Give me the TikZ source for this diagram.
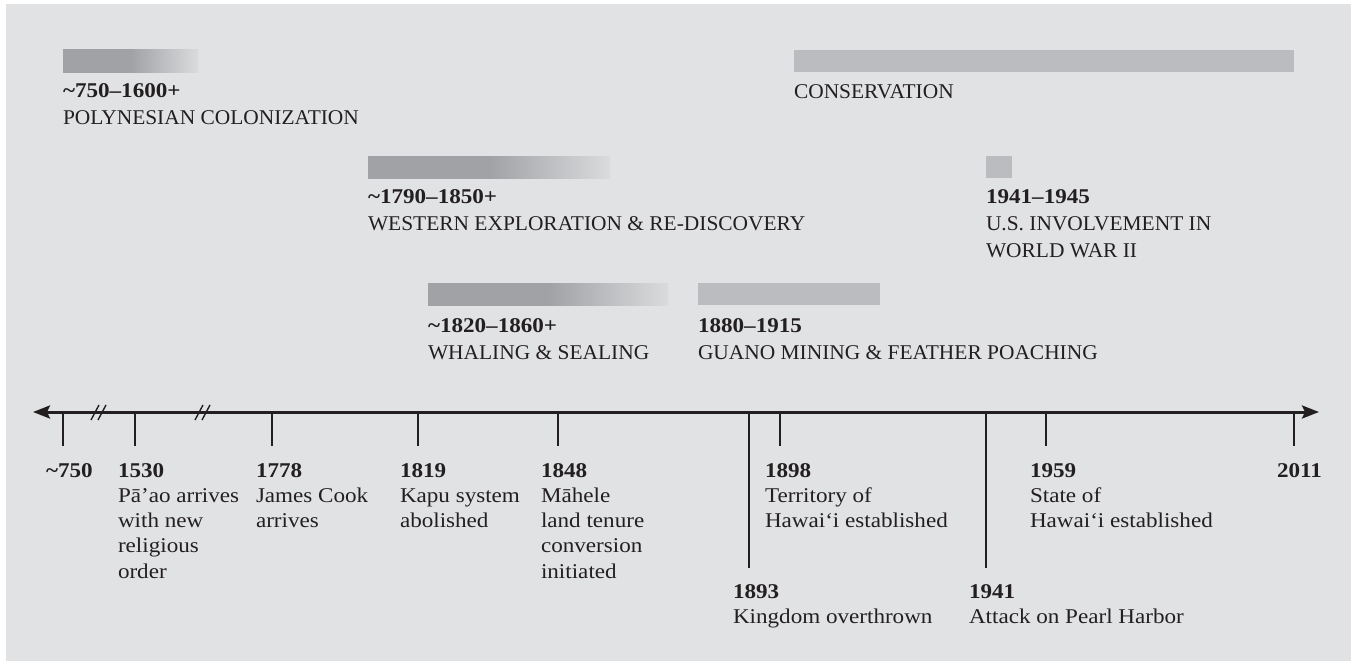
\documentclass[tikz,border=0pt]{standalone}
\usepackage{fontspec}
\setmainfont{Liberation Serif}[FakeStretch=1.02]
\newfontfamily\bodyfont{Liberation Serif}[FakeStretch=1.1]
\usetikzlibrary{arrows.meta}
\definecolor{bgc}{HTML}{E1E2E4}
\definecolor{ink}{HTML}{231F20}
\definecolor{bardark}{HTML}{A1A2A5}
\definecolor{barlight}{HTML}{BBBCBF}
\definecolor{barend}{HTML}{DADBDD}
\pgfdeclarehorizontalshading{barfade}{100bp}{color(0bp)=(bardark); color(50bp)=(bardark); color(75bp)=(barend); color(100bp)=(barend)}
\newcommand\yr[1]{{\bodyfont\bfseries #1}}
\newcommand\plab[1]{\fontsize{21}{27}\selectfont\begin{tabular}[t]{@{}l@{}}#1\end{tabular}}
\newcommand\elab[1]{\bodyfont\fontsize{21}{25.3}\selectfont\begin{tabular}[t]{@{}l@{}}#1\end{tabular}}
\begin{document}
\begin{tikzpicture}[x=1pt,y=-1pt,
  lbl/.style={anchor=base west,inner sep=0pt,outer sep=0pt,text=ink},
  fadebar/.style={shading=barfade,draw=none},
  flatbar/.style={fill=barlight,draw=none},
  axisline/.style={draw=ink,line width=3pt,{Stealth[length=17pt,width=13pt,inset=3pt]}-{Stealth[length=17pt,width=13pt,inset=3pt]}},
  tickline/.style={draw=ink,line width=2.8pt},
  brk/.style={draw=ink,line width=1.4pt}]
\useasboundingbox (0,0) rectangle (1351,661);
\fill[bgc] (6,4) rectangle (1351,661);

% period bars
\shade[fadebar] (63,50) rectangle (198,72);
\fill[flatbar] (794,50) rectangle (1294,72);
\shade[fadebar] (368,156) rectangle (610,178);
\fill[flatbar] (986,156) rectangle (1012,178);
\shade[fadebar] (428,283) rectangle (668,305);
\fill[flatbar] (698,283) rectangle (880,305);

% period labels
\node[lbl] (pPoly) at (63,97) {\plab{\yr{\textasciitilde750–1600+}\\POLYNESIAN COLONIZATION}};
\node[lbl] (pCons) at (794,98) {\plab{CONSERVATION}};
\node[lbl] (pWest) at (368,203) {\plab{\yr{\textasciitilde1790–1850+}\\WESTERN EXPLORATION \& RE-DISCOVERY}};
\node[lbl] (pWar) at (986,203) {\plab{\yr{1941–1945}\\U.S. INVOLVEMENT IN\\WORLD WAR II}};
\node[lbl] (pWhal) at (428,332) {\plab{\yr{\textasciitilde1820–1860+}\\WHALING \& SEALING}};
\node[lbl] (pGuano) at (698,332) {\plab{\yr{1880–1915}\\GUANO MINING \& FEATHER POACHING}};

% axis
\coordinate (axL) at (33,412);
\coordinate (axR) at (1319,412);
\draw[axisline] (axL) -- (axR);
\draw[brk] (91,420) -- (99,405) (98,420) -- (106,405);
\draw[brk] (195,420) -- (203,405) (202,420) -- (210,405);

% ticks
\foreach \nm/\x/\len in {a/63/34, b/135/34, c/272/34, d/418/34, e/558/34, f/749/156, g/780/34, h/986/156, i/1046/34, j/1294/34}{
  \coordinate (t\nm) at (\x,412);
  \coordinate (u\nm) at (\x,412+\len);
  \draw[tickline] (t\nm) -- (u\nm);
}

% event labels
\node[lbl] (e750) at (46,477) {\elab{\textbf{\textasciitilde750}}};
\node[lbl] (e1530) at (118,477) {\elab{\textbf{1530}\\Pā’ao arrives\\with new\\religious\\order}};
\node[lbl] (e1778) at (256,477) {\elab{\textbf{1778}\\James Cook\\arrives}};
\node[lbl] (e1819) at (400,477) {\elab{\textbf{1819}\\Kapu system\\abolished}};
\node[lbl] (e1848) at (541,477) {\elab{\textbf{1848}\\Māhele\\land tenure\\conversion\\initiated}};
\node[lbl] (e1893) at (733,598) {\elab{\textbf{1893}\\Kingdom overthrown}};
\node[lbl] (e1898) at (765,477) {\elab{\textbf{1898}\\Territory of\\Hawai‘i established}};
\node[lbl] (e1941) at (969,598) {\elab{\textbf{1941}\\Attack on Pearl Harbor}};
\node[lbl] (e1959) at (1030,477) {\elab{\textbf{1959}\\State of\\Hawai‘i established}};
\node[lbl] (e2011) at (1277,477) {\elab{\textbf{2011}}};
\end{tikzpicture}
\end{document}
